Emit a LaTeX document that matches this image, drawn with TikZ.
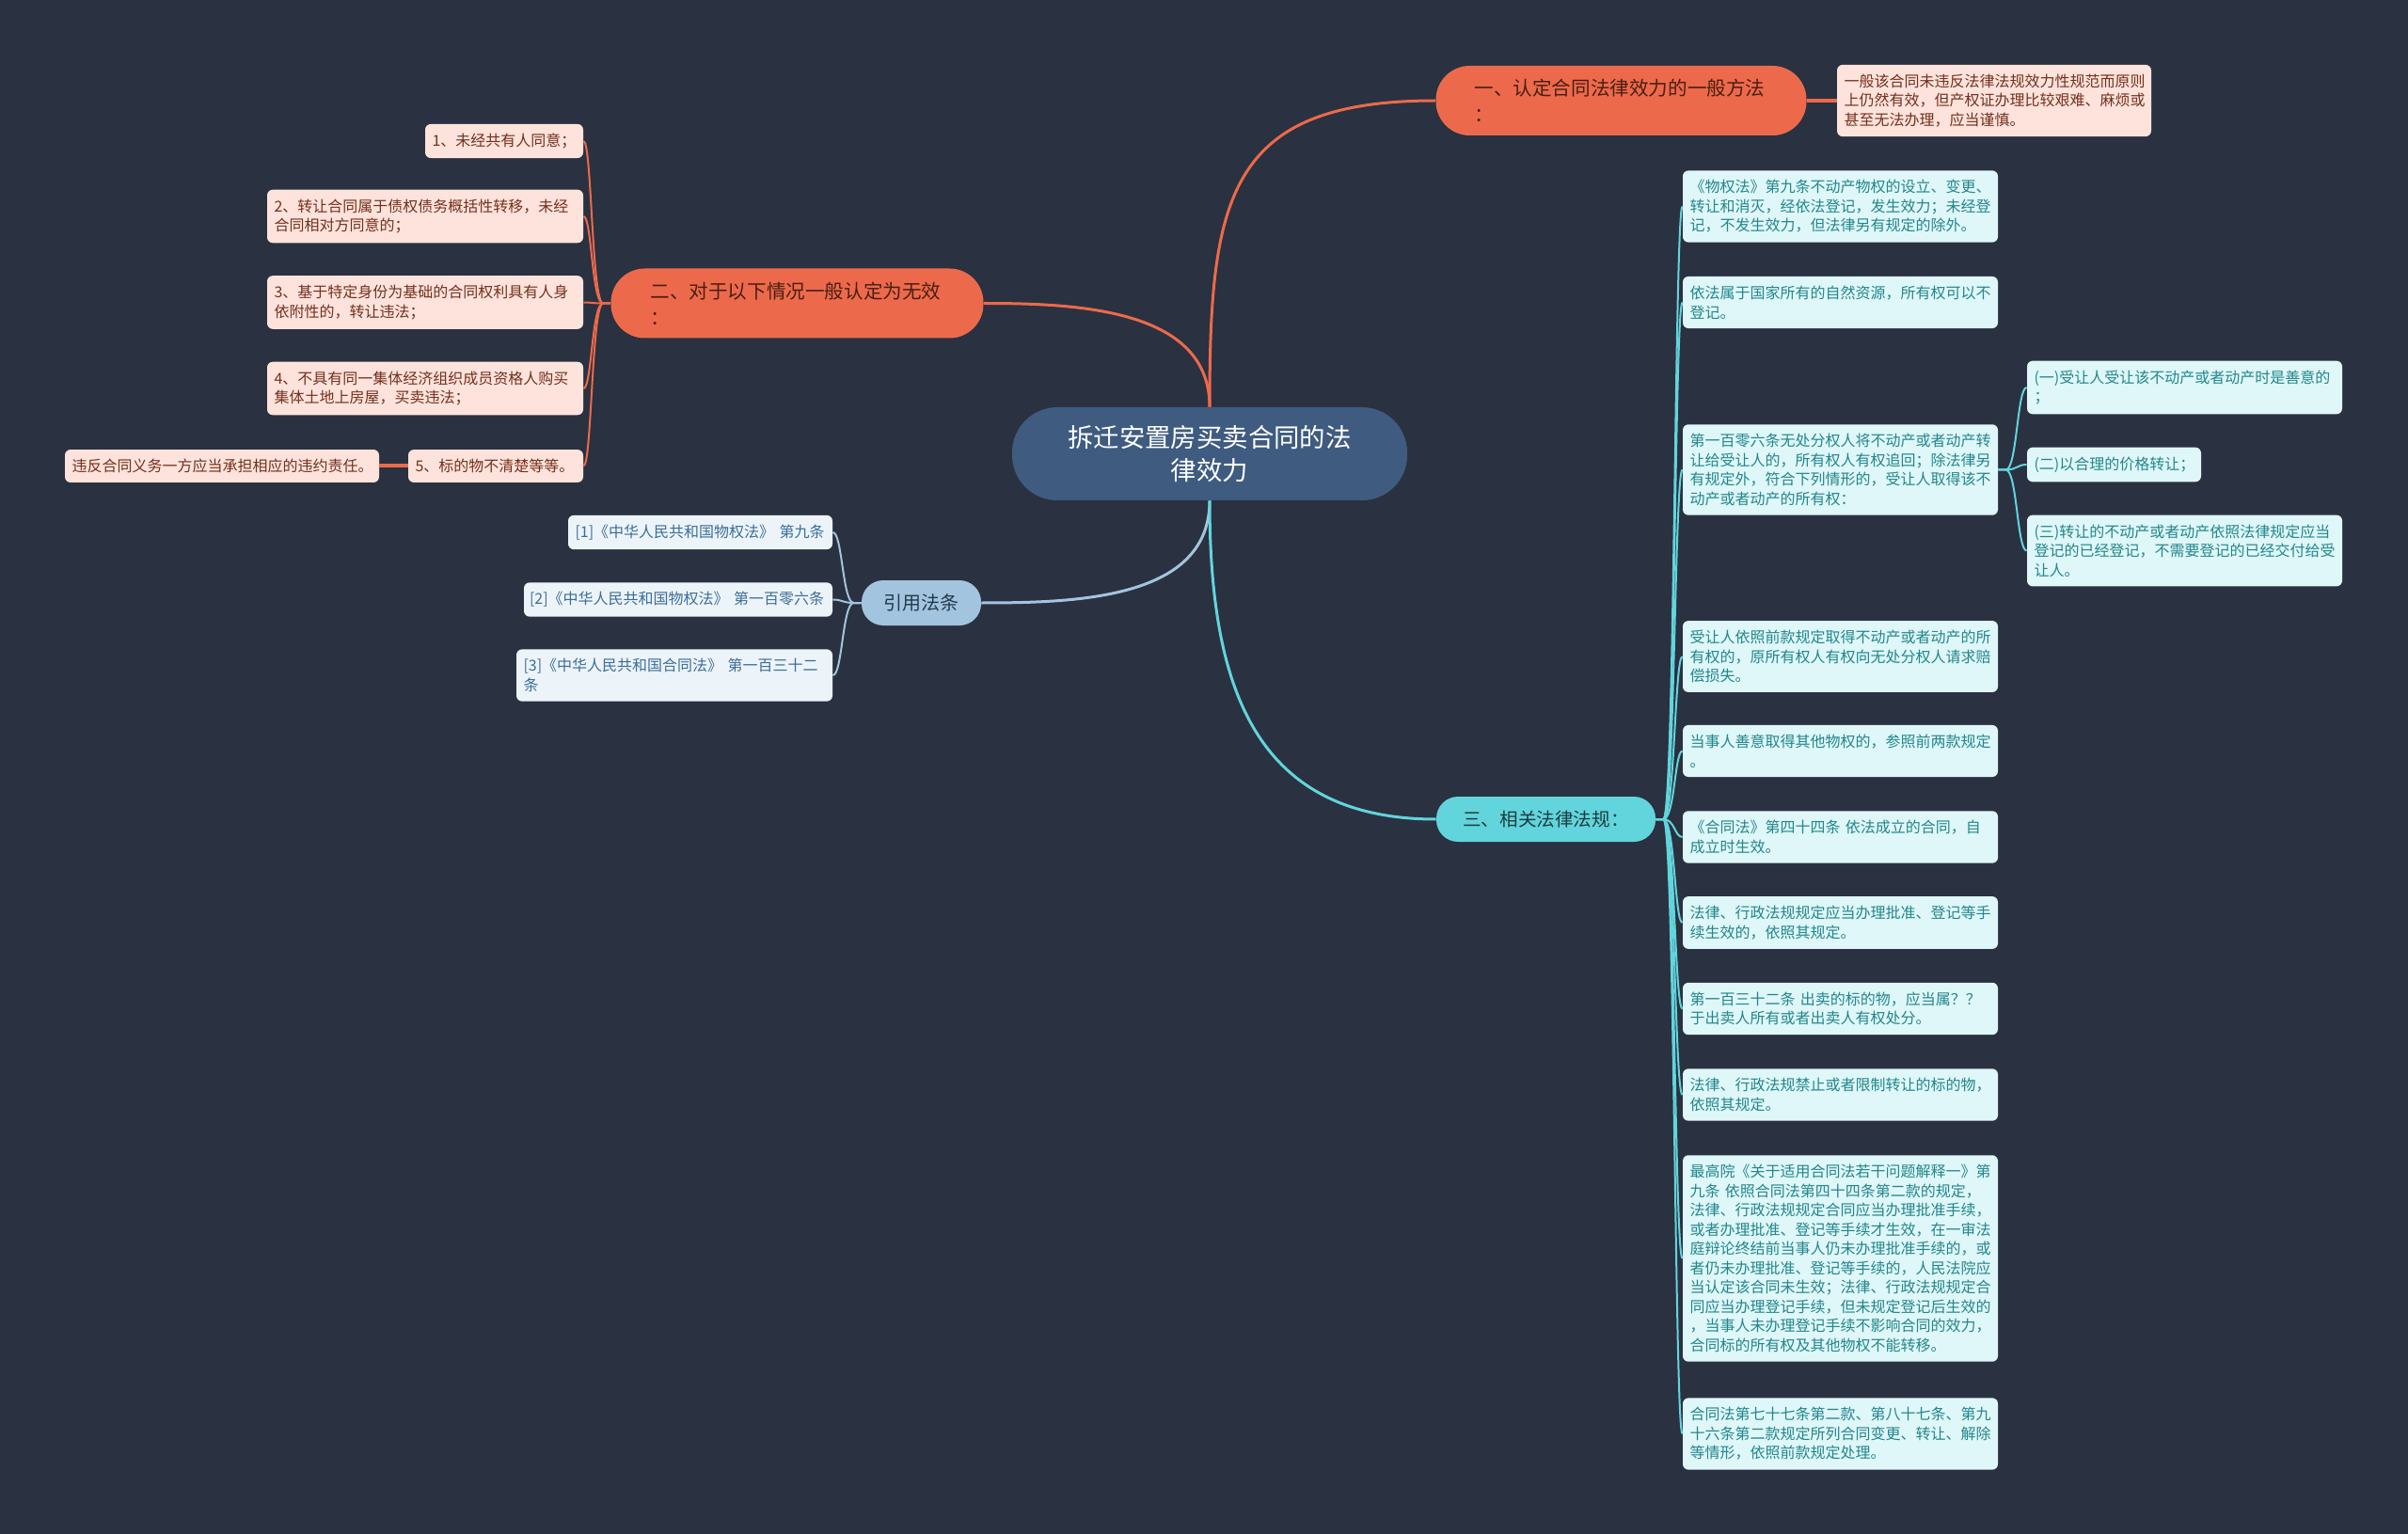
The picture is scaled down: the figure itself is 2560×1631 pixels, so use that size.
\documentclass[tikz,border=0pt]{standalone}
\usepackage{fontspec}
\setmainfont{Noto Sans CJK SC}
\definecolor{bg}{HTML}{2A3140}
\definecolor{rootfill}{HTML}{3F5B80}
\definecolor{ofill}{HTML}{EC6A4B}
\definecolor{otext}{HTML}{4A1E12}
\definecolor{oleaf}{HTML}{FDE3DB}
\definecolor{oleaftext}{HTML}{73301F}
\definecolor{cfill}{HTML}{62D4DC}
\definecolor{ctext}{HTML}{1D3B40}
\definecolor{cleaf}{HTML}{DFF7F8}
\definecolor{cleaftext}{HTML}{23868B}
\definecolor{bfill}{HTML}{A3C4DE}
\definecolor{btext}{HTML}{233A4D}
\definecolor{bleaf}{HTML}{ECF4FA}
\definecolor{bleaftext}{HTML}{3C6E97}
\begin{document}
\begin{tikzpicture}[x=0.5pt,y=-0.5pt,
  rootn/.style={fill=rootfill, text=white, rounded corners=24pt, align=center,
    text width=152pt, inner xsep=29pt, inner ysep=0pt, minimum height=49.5pt,
    font=\fontsize{13.7}{17.5}\selectfont},
  mainO/.style={fill=ofill, text=otext, rounded corners=18pt, align=left,
    text width=156pt, inner xsep=20.5pt, inner ysep=0pt, minimum height=37pt,
    font=\fontsize{10.3}{14}\selectfont},
  mainC/.style={fill=cfill, text=ctext, rounded corners=11.5pt, inner sep=0pt,
    minimum width=116.5pt, minimum height=24pt, font=\fontsize{9.8}{12}\selectfont},
  mainB/.style={fill=bfill, text=btext, rounded corners=11.5pt, inner sep=0pt,
    minimum width=63.5pt, minimum height=24pt, font=\fontsize{10}{12}\selectfont},
  leaf/.style={rounded corners=3pt, inner xsep=3.75pt, inner ysep=5pt,
    text width=160pt, align=left, font=\fontsize{8}{10.25}\selectfont},
  leafO/.style={leaf, fill=oleaf, text=oleaftext},
  leafC/.style={leaf, fill=cleaf, text=cleaftext},
  leafB/.style={leaf, fill=bleaf, text=bleaftext},
  oline/.style={draw=ofill, line width=1pt},
  cline/.style={draw=cfill, line width=1pt},
  bline/.style={draw=bfill, line width=1pt},
]
\fill[bg] (0,0) rectangle (2560,1631);
\useasboundingbox (0,0) rectangle (2560,1631);

% root
\node[rootn] (root) at (1286,482.5) {拆迁安置房买卖合同的法\\律效力};

% branch 一
\node[mainO] (n1) at (1723.5,107) {一、认定合同法律效力的一般方法\\：};
\node[leafO, text width=159.5pt] (n1l) at (2120,107) {一般该合同未违反法律法规效力性规范而原则\\上仍然有效，但产权证办理比较艰难、麻烦或\\甚至无法办理，应当谨慎。};

% branch 二
\node[mainO, inner xsep=21pt] (n2) at (847.5,322.5) {二、对于以下情况一般认定为无效\\：};
\node[leafO, text width=76.5pt] (o1) at (536,150) {1、未经共有人同意；};
\node[leafO, text width=160.5pt] (o2) at (452,230) {2、转让合同属于债权债务概括性转移，未经\\合同相对方同意的；};
\node[leafO, text width=160.5pt] (o3) at (452,321.5) {3、基于特定身份为基础的合同权利具有人身\\依附性的，转让违法；};
\node[leafO, text width=160.5pt] (o4) at (452,413) {4、不具有同一集体经济组织成员资格人购买\\集体土地上房屋，买卖违法；};
\node[leafO, text width=85.5pt] (o5) at (527,495.5) {5、标的物不清楚等等。};
\node[leafO, text width=159.5pt] (o5a) at (236,495.5) {违反合同义务一方应当承担相应的违约责任。};

% branch 引用法条
\node[mainB] (n4) at (979.5,641) {引用法条};
\node[leafB, text width=133pt] (b1) at (744.5,566) {[1]《中华人民共和国物权法》~第九条};
\node[leafB, text width=158pt, inner xsep=3pt] (b2) at (721,637.5) {[2]《中华人民共和国物权法》~第一百零六条};
\node[leafB, text width=160.5pt] (b3) at (717,718) {[3]《中华人民共和国合同法》 第一百三十二\\条};

% branch 三
\node[mainC] (n3) at (1643.5,871) {三、相关法律法规：};
\node[leafC] (ca) at (1956.5,219.5) {《物权法》第九条不动产物权的设立、变更、\\转让和消灭，经依法登记，发生效力；未经登\\记，不发生效力，但法律另有规定的除外。};
\node[leafC] (cb) at (1956.5,321.5) {依法属于国家所有的自然资源，所有权可以不\\登记。};
\node[leafC] (cc) at (1956.5,499.5) {第一百零六条无处分权人将不动产或者动产转\\让给受让人的，所有权人有权追回；除法律另\\有规定外，符合下列情形的，受让人取得该不\\动产或者动产的所有权：};
\node[leafC] (cc1) at (2322.5,412) {(一)受让人受让该不动产或者动产时是善意的\\；};
\node[leafC, text width=85pt] (cc2) at (2247.5,494) {(二)以合理的价格转让；};
\node[leafC] (cc3) at (2322.5,585.5) {(三)转让的不动产或者动产依照法律规定应当\\登记的已经登记，不需要登记的已经交付给受\\让人。};
\node[leafC] (cd) at (1956.5,698) {受让人依照前款规定取得不动产或者动产的所\\有权的，原所有权人有权向无处分权人请求赔\\偿损失。};
\node[leafC] (ce) at (1956.5,798.5) {当事人善意取得其他物权的，参照前两款规定\\。};
\node[leafC] (cf) at (1956.5,890) {《合同法》第四十四条 依法成立的合同，自\\成立时生效。};
\node[leafC] (cg) at (1956.5,981) {法律、行政法规规定应当办理批准、登记等手\\续生效的，依照其规定。};
\node[leafC] (ch) at (1956.5,1072.5) {第一百三十二条 出卖的标的物，应当属？？\\于出卖人所有或者出卖人有权处分。};
\node[leafC] (ci) at (1956.5,1164) {法律、行政法规禁止或者限制转让的标的物，\\依照其规定。};
\node[leafC] (cj) at (1956.5,1338) {最高院《关于适用合同法若干问题解释一》第\\九条 依照合同法第四十四条第二款的规定，\\法律、行政法规规定合同应当办理批准手续，\\或者办理批准、登记等手续才生效，在一审法\\庭辩论终结前当事人仍未办理批准手续的，或\\者仍未办理批准、登记等手续的，人民法院应\\当认定该合同未生效；法律、行政法规规定合\\同应当办理登记手续，但未规定登记后生效的\\，当事人未办理登记手续不影响合同的效力，\\合同标的所有权及其他物权不能转移。};
\node[leafC] (ck) at (1956.5,1524.5) {合同法第七十七条第二款、第八十七条、第九\\十六条第二款规定所列合同变更、转让、解除\\等情形，依照前款规定处理。};

% main branches from root
\draw[oline, line width=1.5pt] (root.north) to[out=90,in=180,looseness=1.4] (n1.west);
\draw[oline, line width=1.5pt] (root.north) to[out=90,in=0] (n2.east);
\draw[bline, line width=1.5pt] (root.south) to[out=-90,in=0] (n4.east);
\draw[cline, line width=1.5pt] (root.south) to[out=-90,in=180,looseness=1.2] (n3.west);

% straight links
\draw[oline, line width=2pt] (n1.east) -- (n1l.west);
\draw[oline, line width=2pt] (o5.west) -- (o5a.east);

% fans
\coordinate (n2s) at ([xshift=-4pt]n2.west);
\coordinate (n2t) at ([xshift=-10pt]n2.west);
\foreach \c in {o1,o2,o3,o4,o5}
  \draw[oline] (n2.west) -- (n2s) .. controls (n2t) and (n2t |- \c.east) .. (\c.east);

\coordinate (n4s) at ([xshift=-4pt]n4.west);
\coordinate (n4t) at ([xshift=-10pt]n4.west);
\foreach \c in {b1,b2,b3}
  \draw[bline] (n4.west) -- (n4s) .. controls (n4t) and (n4t |- \c.east) .. (\c.east);

\coordinate (n3s) at ([xshift=4pt]n3.east);
\coordinate (n3t) at ([xshift=10pt]n3.east);
\foreach \c in {ca,cb,cc,cd,ce,cf,cg,ch,ci,cj,ck}
  \draw[cline] (n3.east) -- (n3s) .. controls (n3t) and (n3t |- \c.west) .. (\c.west);

\coordinate (ccs) at ([xshift=4pt]cc.east);
\coordinate (cct) at ([xshift=10pt]cc.east);
\foreach \c in {cc1,cc2,cc3}
  \draw[cline] (cc.east) -- (ccs) .. controls (cct) and (cct |- \c.west) .. (\c.west);
\end{tikzpicture}
\end{document}
